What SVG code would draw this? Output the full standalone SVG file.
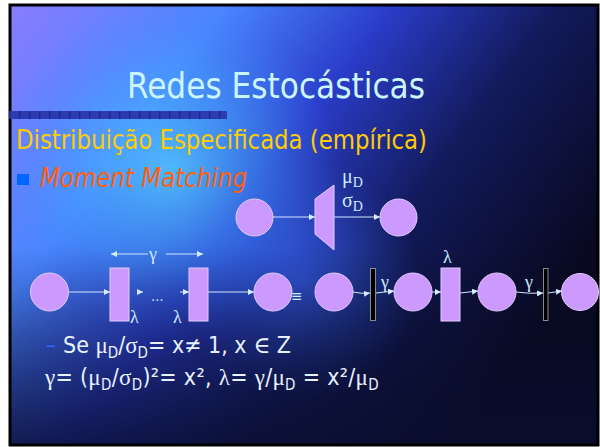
<svg xmlns="http://www.w3.org/2000/svg" width="600" height="447" viewBox="0 0 600 447">
<defs>
<linearGradient id="bg" x1="0" y1="0" x2="1" y2="0.55">
<stop offset="0" stop-color="#8a7cff"/>
<stop offset="0.28" stop-color="#4a86ff"/>
<stop offset="0.5" stop-color="#2a3cc8"/>
<stop offset="0.72" stop-color="#121a5a"/>
<stop offset="1" stop-color="#08081e"/>
</linearGradient>
<radialGradient id="glow" cx="170" cy="170" r="170" gradientUnits="userSpaceOnUse">
<stop offset="0" stop-color="#55d4ff" stop-opacity="0.75"/>
<stop offset="0.6" stop-color="#44aaff" stop-opacity="0.35"/>
<stop offset="1" stop-color="#4080ff" stop-opacity="0"/>
</radialGradient>
<radialGradient id="glow2" cx="300" cy="280" r="120" gradientUnits="userSpaceOnUse">
<stop offset="0" stop-color="#3a6cff" stop-opacity="0.6"/>
<stop offset="1" stop-color="#3a6cff" stop-opacity="0"/>
</radialGradient>
<linearGradient id="dark" x1="0" y1="0" x2="0" y2="1">
<stop offset="0.55" stop-color="#0a1030" stop-opacity="0"/>
<stop offset="1" stop-color="#0a0e30" stop-opacity="0.8"/>
</linearGradient>
<pattern id="chk" width="10" height="8" patternUnits="userSpaceOnUse" x="9" y="111">
<rect width="10" height="8" fill="#2c3cb0"/>
<rect width="1.5" height="8" fill="#1c2890"/>
</pattern>
<marker id="ah" viewBox="0 0 6 6" refX="6" refY="3" markerWidth="6" markerHeight="6" markerUnits="userSpaceOnUse" orient="auto">
<path d="M0,0 L6,3 L0,6 z" fill="#d8ecff"/>
</marker>
<style>
.sans{font-family:"DejaVu Sans Condensed","DejaVu Sans","Liberation Sans",sans-serif}
.ser{font-family:"Liberation Serif","DejaVu Serif",serif}
.pl{fill:#cc99ff;stroke:#e4ccff;stroke-width:1}
.bar{fill:#000;stroke:#8a8a8a;stroke-width:1}
.cn{stroke:#cfe6ff;stroke-width:1;fill:none}
.lab{fill:#cdeaff}
.txt{fill:#e8f2ff}
</style>
</defs>
<rect width="600" height="447" fill="#ffffff"/>
<rect x="10" y="5" width="588" height="440" fill="url(#bg)"/>
<rect x="10" y="5" width="588" height="440" fill="url(#glow)"/>
<rect x="10" y="5" width="588" height="440" fill="url(#glow2)"/>
<rect x="10" y="5" width="588" height="440" fill="url(#dark)"/>
<rect x="10" y="5" width="588" height="440" fill="none" stroke="#000" stroke-width="3"/>

<text class="sans" x="127" y="98" font-size="36" fill="#ccf6ff" textLength="298" lengthAdjust="spacingAndGlyphs">Redes Estocásticas</text>
<rect x="9" y="111" width="218" height="8" fill="url(#chk)"/>
<text class="sans" x="16" y="149" font-size="26" fill="#ffcc00" textLength="411" lengthAdjust="spacingAndGlyphs">Distribuição Especificada (empírica)</text>
<rect x="17" y="174" width="12" height="11" fill="#0066ff"/>
<text class="sans" x="40" y="187" font-size="26" font-style="italic" fill="#ff6010" textLength="207" lengthAdjust="spacingAndGlyphs">Moment Matching</text>

<g id="connectors">
<line class="cn" x1="273" y1="217" x2="315" y2="217" marker-end="url(#ah)"/>
<line class="cn" x1="334" y1="217" x2="380" y2="217" marker-end="url(#ah)"/>
<line class="cn" x1="68" y1="292" x2="110" y2="292" marker-end="url(#ah)"/>
<line class="cn" x1="139" y1="292" x2="143" y2="292" marker-end="url(#ah)"/>
<line class="cn" x1="180" y1="292" x2="189" y2="292" marker-end="url(#ah)"/>
<line class="cn" x1="208" y1="292" x2="254" y2="292" marker-end="url(#ah)"/>
<line class="cn" x1="148" y1="254" x2="111" y2="254" marker-end="url(#ah)"/>
<line class="cn" x1="166" y1="254" x2="203" y2="254" marker-end="url(#ah)"/>
<path class="cn" d="M353,292 Q362,294 370,293" marker-end="url(#ah)"/>
<path class="cn" d="M376,293 Q385,292 394,291" marker-end="url(#ah)"/>
<line class="cn" x1="432" y1="292" x2="441" y2="292" marker-end="url(#ah)"/>
<path class="cn" d="M460,293 Q469,292 478,291" marker-end="url(#ah)"/>
<path class="cn" d="M516,292 Q530,294 543,293" marker-end="url(#ah)"/>
<path class="cn" d="M548,293 Q555,292 562,291" marker-end="url(#ah)"/>
</g>

<g id="n1"><circle class="pl" cx="254.5" cy="217.5" r="18.5"/></g>
<g id="n2"><path class="pl" d="M315,199 L334,185 L334,250 L315,234 Z"/>
<text class="ser lab" x="342" y="183" font-size="20">μ<tspan font-size="14" dy="4">D</tspan></text>
<text class="ser lab" x="342" y="207" font-size="20">σ<tspan font-size="14" dy="4">D</tspan></text></g>
<g id="n3"><circle class="pl" cx="398.5" cy="217.5" r="18.5"/></g>

<g id="n4"><circle class="pl" cx="49.5" cy="292" r="19"/></g>
<g id="n5"><rect class="pl" x="110" y="268" width="19" height="53"/>
<text class="ser lab" x="130" y="323" font-size="18">λ</text></g>
<text class="sans lab" x="151" y="301" font-size="14">…</text>
<g id="n6"><rect class="pl" x="189" y="268" width="19" height="53"/>
<text class="ser lab" x="173" y="323" font-size="18">λ</text></g>
<text class="ser lab" x="149" y="260" font-size="18">γ</text>
<g id="n7"><circle class="pl" cx="273" cy="292" r="19"/></g>
<text class="sans lab" x="291" y="301" font-size="15">≡</text>
<g id="n8"><circle class="pl" cx="334" cy="292" r="19"/></g>
<g id="n9"><rect class="bar" x="370.5" y="268.5" width="5" height="52"/>
<text class="ser lab" x="381" y="288" font-size="18">γ</text></g>
<g id="n10"><circle class="pl" cx="413" cy="292" r="19"/></g>
<g id="n11"><rect class="pl" x="441" y="268" width="19" height="53"/>
<text class="ser lab" x="443" y="263" font-size="18">λ</text></g>
<g id="n12"><circle class="pl" cx="497" cy="292" r="19"/></g>
<g id="n13"><rect class="bar" x="543.5" y="268.5" width="4.5" height="52"/>
<text class="ser lab" x="525" y="288" font-size="18">γ</text></g>
<g id="n14"><circle class="pl" cx="580" cy="292" r="18.5"/></g>

<text class="sans" x="46" y="352" font-size="22" fill="#3366ff">–</text>
<text class="sans txt" x="63" y="353" font-size="23">Se <tspan class="ser">μ</tspan><tspan font-size="15" dy="5">D</tspan><tspan dy="-5">/</tspan><tspan class="ser">σ</tspan><tspan font-size="15" dy="5">D</tspan><tspan dy="-5">= x≠ 1, x </tspan><tspan class="ser">∈</tspan> Z</text>
<text class="sans txt" x="45" y="385" font-size="23" letter-spacing="0.3"><tspan class="ser">γ</tspan>= (<tspan class="ser">μ</tspan><tspan font-size="15" dy="5">D</tspan><tspan dy="-5">/</tspan><tspan class="ser">σ</tspan><tspan font-size="15" dy="5">D</tspan><tspan dy="-5">)²= x², </tspan><tspan class="ser">λ</tspan>= <tspan class="ser">γ</tspan>/<tspan class="ser">μ</tspan><tspan font-size="15" dy="5">D</tspan><tspan dy="-5"> = x²/</tspan><tspan class="ser">μ</tspan><tspan font-size="15" dy="5">D</tspan></text>
</svg>
